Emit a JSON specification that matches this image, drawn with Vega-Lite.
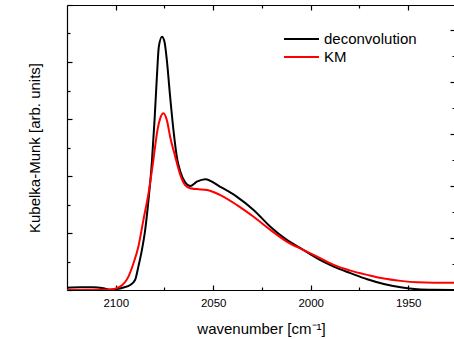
{
  "$schema": "https://vega.github.io/schema/vega-lite/v6.json",
  "width": 388,
  "height": 285,
  "autosize": {"type": "none"},
  "padding": {"left": 67, "top": 5, "right": 0, "bottom": 49},
  "background": "white",
  "config": {
    "view": {"stroke": null},
    "font": "Liberation Sans",
    "axis": {
      "grid": false,
      "domainColor": "black",
      "domainWidth": 1.2,
      "tickColor": "black",
      "tickWidth": 1.2,
      "labelFont": "Liberation Sans",
      "titleFont": "Liberation Sans",
      "labelColor": "black",
      "titleColor": "black",
      "titleFontWeight": "normal"
    }
  },
  "data": {
    "values": [
      {"series": "deconvolution", "wn": 2125, "v": 0.08},
      {"series": "deconvolution", "wn": 2118, "v": 0.095},
      {"series": "deconvolution", "wn": 2111.5, "v": 0.095},
      {"series": "deconvolution", "wn": 2106.3, "v": 0.06},
      {"series": "deconvolution", "wn": 2102.9, "v": 0.01},
      {"series": "deconvolution", "wn": 2101.2, "v": 0.02},
      {"series": "deconvolution", "wn": 2096, "v": 0.09},
      {"series": "deconvolution", "wn": 2092.6, "v": 0.175},
      {"series": "deconvolution", "wn": 2090.1, "v": 0.35},
      {"series": "deconvolution", "wn": 2088.4, "v": 0.82},
      {"series": "deconvolution", "wn": 2086.6, "v": 1.4},
      {"series": "deconvolution", "wn": 2084.9, "v": 2.11},
      {"series": "deconvolution", "wn": 2083.2, "v": 3.16},
      {"series": "deconvolution", "wn": 2081.5, "v": 4.45},
      {"series": "deconvolution", "wn": 2080.1, "v": 5.96},
      {"series": "deconvolution", "wn": 2078.9, "v": 7.48},
      {"series": "deconvolution", "wn": 2077.9, "v": 8.54},
      {"series": "deconvolution", "wn": 2076.3, "v": 8.89},
      {"series": "deconvolution", "wn": 2075.0, "v": 8.71},
      {"series": "deconvolution", "wn": 2073.8, "v": 8.07},
      {"series": "deconvolution", "wn": 2072.1, "v": 6.78},
      {"series": "deconvolution", "wn": 2070.4, "v": 5.61},
      {"series": "deconvolution", "wn": 2068.5, "v": 4.6},
      {"series": "deconvolution", "wn": 2066.9, "v": 4.16},
      {"series": "deconvolution", "wn": 2064.4, "v": 3.78},
      {"series": "deconvolution", "wn": 2061.8, "v": 3.65},
      {"series": "deconvolution", "wn": 2058.4, "v": 3.8},
      {"series": "deconvolution", "wn": 2054.1, "v": 3.89},
      {"series": "deconvolution", "wn": 2046.4, "v": 3.62},
      {"series": "deconvolution", "wn": 2037.8, "v": 3.27},
      {"series": "deconvolution", "wn": 2029.3, "v": 2.81},
      {"series": "deconvolution", "wn": 2020.7, "v": 2.22},
      {"series": "deconvolution", "wn": 2012.1, "v": 1.75},
      {"series": "deconvolution", "wn": 2003.6, "v": 1.4},
      {"series": "deconvolution", "wn": 1996.7, "v": 1.11},
      {"series": "deconvolution", "wn": 1988.2, "v": 0.82},
      {"series": "deconvolution", "wn": 1979.6, "v": 0.59},
      {"series": "deconvolution", "wn": 1971.0, "v": 0.375},
      {"series": "deconvolution", "wn": 1962.5, "v": 0.21},
      {"series": "deconvolution", "wn": 1953.9, "v": 0.095},
      {"series": "deconvolution", "wn": 1945.3, "v": 0.025},
      {"series": "deconvolution", "wn": 1936.8, "v": 0.005},
      {"series": "deconvolution", "wn": 1926, "v": 0.0},
      {"series": "KM", "wn": 2125, "v": 0.0},
      {"series": "KM", "wn": 2108, "v": 0.01},
      {"series": "KM", "wn": 2102.9, "v": 0.02},
      {"series": "KM", "wn": 2097.8, "v": 0.12},
      {"series": "KM", "wn": 2093.5, "v": 0.47},
      {"series": "KM", "wn": 2090.9, "v": 0.94},
      {"series": "KM", "wn": 2088.4, "v": 1.52},
      {"series": "KM", "wn": 2085.8, "v": 2.46},
      {"series": "KM", "wn": 2083.2, "v": 3.39},
      {"series": "KM", "wn": 2080.7, "v": 4.56},
      {"series": "KM", "wn": 2078.6, "v": 5.61},
      {"series": "KM", "wn": 2077.2, "v": 6.02},
      {"series": "KM", "wn": 2075.5, "v": 6.2},
      {"series": "KM", "wn": 2073.8, "v": 5.96},
      {"series": "KM", "wn": 2072.1, "v": 5.38},
      {"series": "KM", "wn": 2069.5, "v": 4.68},
      {"series": "KM", "wn": 2066.9, "v": 4.04},
      {"series": "KM", "wn": 2064.4, "v": 3.68},
      {"series": "KM", "wn": 2061.8, "v": 3.57},
      {"series": "KM", "wn": 2058.4, "v": 3.54},
      {"series": "KM", "wn": 2053.2, "v": 3.51},
      {"series": "KM", "wn": 2046.4, "v": 3.33},
      {"series": "KM", "wn": 2037.8, "v": 2.98},
      {"series": "KM", "wn": 2029.3, "v": 2.57},
      {"series": "KM", "wn": 2020.7, "v": 2.11},
      {"series": "KM", "wn": 2012.1, "v": 1.69},
      {"series": "KM", "wn": 2003.6, "v": 1.4},
      {"series": "KM", "wn": 1996.7, "v": 1.17},
      {"series": "KM", "wn": 1988.2, "v": 0.88},
      {"series": "KM", "wn": 1979.6, "v": 0.68},
      {"series": "KM", "wn": 1971.0, "v": 0.53},
      {"series": "KM", "wn": 1962.5, "v": 0.4},
      {"series": "KM", "wn": 1953.9, "v": 0.32},
      {"series": "KM", "wn": 1945.3, "v": 0.27},
      {"series": "KM", "wn": 1936.8, "v": 0.256},
      {"series": "KM", "wn": 1926, "v": 0.256}
    ]
  },
  "layer": [
    {
      "mark": {"type": "line", "strokeWidth": 2, "interpolate": "monotone", "clip": true},
      "encoding": {
        "x": {
          "field": "wn",
          "type": "quantitative",
          "scale": {"domain": [1926, 2125], "reverse": true, "nice": false, "zero": false},
          "axis": {
            "orient": "bottom",
            "values": [1950, 1975, 2000, 2025, 2050, 2075, 2100],
            "format": "d",
            "labelExpr": "datum.value % 50 == 0 ? datum.label : ''",
            "tickSize": {"condition": {"test": "datum.value % 50 == 0", "value": -5}, "value": -3},
            "labelPadding": 12,
            "labelFontSize": 11.5,
            "title": "wavenumber [cm⁻¹]",
            "titleFontSize": 15,
            "titlePadding": 13
          }
        },
        "y": {
          "field": "v",
          "type": "quantitative",
          "scale": {"domain": [0, 10], "nice": false},
          "axis": {
            "orient": "left",
            "values": [0, 1, 2, 3, 4, 5, 6, 7, 8, 9, 10],
            "labels": false,
            "tickSize": {"condition": {"test": "datum.value % 2 == 0", "value": -5}, "value": -3},
            "title": "Kubelka-Munk [arb. units]",
            "titleFontSize": 15,
            "titlePadding": 24
          }
        },
        "color": {
          "field": "series",
          "type": "nominal",
          "sort": ["deconvolution", "KM"],
          "scale": {"domain": ["deconvolution", "KM"], "range": ["#000000", "#ff0000"]},
          "legend": {
            "title": null,
            "orient": "none",
            "legendX": 226.5,
            "legendY": 26,
            "padding": 0,
            "symbolType": "M-2.5,0H2.5",
            "symbolSize": 196,
            "symbolStrokeWidth": 2,
            "rowPadding": 2,
            "labelFontSize": 15,
            "labelFont": "Liberation Sans",
            "labelColor": "black",
            "labelOffset": 14.5
          }
        }
      }
    },
    {
      "mark": {"type": "line", "opacity": 0},
      "encoding": {
        "x": {
          "field": "wn",
          "type": "quantitative",
          "axis": {
            "orient": "top",
            "values": [1950, 1975, 2000, 2025, 2050, 2075, 2100],
            "labels": false,
            "tickSize": {"condition": {"test": "datum.value % 50 == 0", "value": -5}, "value": -3},
            "title": null
          }
        },
        "y": {
          "field": "v",
          "type": "quantitative",
          "scale": {"domain": [0, 10.96], "nice": false},
          "axis": {
            "orient": "right",
            "values": [1, 2, 3, 4, 5, 6, 7, 8, 9, 10],
            "labels": false,
            "tickSize": {"condition": {"test": "datum.value % 2 == 0", "value": -5}, "value": -3},
            "title": null
          }
        },
        "detail": {"field": "series"}
      }
    }
  ],
  "resolve": {"scale": {"y": "independent"}, "axis": {"x": "independent", "y": "independent"}}
}
